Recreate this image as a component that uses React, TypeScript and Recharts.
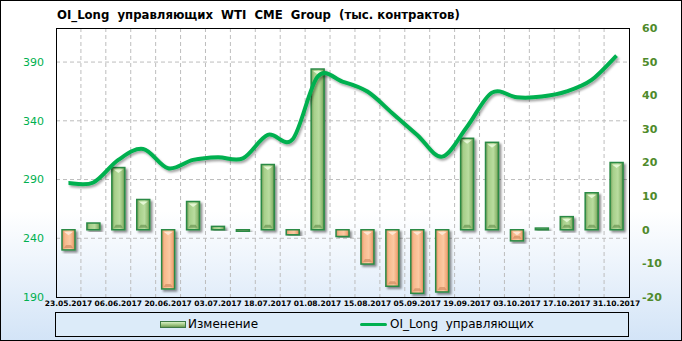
import { ComposedChart, Bar, Line, XAxis, YAxis, CartesianGrid } from 'recharts';

const dates = [
  '23.05.2017', '30.05.2017', '06.06.2017', '13.06.2017', '20.06.2017', '27.06.2017',
  '03.07.2017', '11.07.2017', '18.07.2017', '25.07.2017', '01.08.2017', '08.08.2017',
  '15.08.2017', '29.08.2017', '05.09.2017', '12.09.2017', '19.09.2017', '26.09.2017',
  '03.10.2017', '10.10.2017', '17.10.2017', '24.10.2017', '31.10.2017',
];

// Изменение (правая ось)
const change = [
  -6, 2, 18.5, 9, -17.6, 8.4, 1, -0.5, 19.4, -1.5, 47.8, -2,
  -10.2, -16.8, -18.9, -18.5, 27.2, 26, -3.3, 0.5, 3.9, 11, 20,
];

// OI_Long управляющих (левая ось)
const oiLong = [
  287, 287.5, 306.7, 316, 299.6, 306.7, 309, 308, 328, 324.3, 377.5, 373.4,
  364.9, 346.5, 328, 309.5, 335, 364, 360, 360.6, 365, 374.8, 395.5,
];

const leftTicks = [190, 240, 290, 340, 390];
const rightTicks = [-20, -10, 0, 10, 20, 30, 40, 50, 60];

const data = dates.map((d, i) => ({ date: d, change: change[i], oi: oiLong[i] }));

const W = 682;
const H = 341;
const PLOT = { left: 56, top: 28, right: 629, bottom: 297 };

// сглаживание как в Excel (Catmull-Rom)
function smoothCurve(context: any) {
  let pts: number[][] = [];
  return {
    areaStart() {},
    areaEnd() {},
    lineStart() {
      pts = [];
    },
    point(x: number, y: number) {
      pts.push([+x, +y]);
    },
    lineEnd() {
      if (!pts.length) return;
      context.moveTo(pts[0][0], pts[0][1]);
      const t = 1 / 6;
      for (let i = 0; i < pts.length - 1; i++) {
        const p0 = pts[Math.max(i - 1, 0)];
        const p1 = pts[i];
        const p2 = pts[i + 1];
        const p3 = pts[Math.min(i + 2, pts.length - 1)];
        context.bezierCurveTo(
          p1[0] + (p2[0] - p0[0]) * t,
          p1[1] + (p2[1] - p0[1]) * t,
          p2[0] - (p3[0] - p1[0]) * t,
          p2[1] - (p3[1] - p1[1]) * t,
          p2[0],
          p2[1],
        );
      }
    },
  };
}

function BevelBar(props: any) {
  const { x, y, width, height, payload } = props;
  const top = Math.min(y, y + height);
  const h = Math.max(Math.abs(height), 1);
  const neg = payload.change < 0;
  const inset = 2;
  return (
    <g filter="url(#barShadow)">
      <rect x={x} y={top} width={width} height={h} fill={neg ? 'url(#gOrange)' : 'url(#gGreen)'} stroke="#2a8a45" strokeWidth={1.5} />
      {h > 8 && (
        <polygon
          points={`${x + inset},${top + inset} ${x + width - inset},${top + inset} ${x + width / 2},${top + width / 2 - 1}`}
          fill={neg ? '#fde6d2' : '#e4f7d4'}
        />
      )}
      {h > 8 && (
        <polygon
          points={`${x + inset},${top + h - inset} ${x + width - inset},${top + h - inset} ${x + width - inset - 2},${top + h - inset - 3} ${x + inset + 2},${top + h - inset - 3}`}
          fill={neg ? '#c9845a' : '#5f8a47'}
          opacity={0.6}
        />
      )}
    </g>
  );
}

export default function App() {
  return (
    <div
      style={{
        position: 'absolute',
        left: 0,
        top: 0,
        width: W,
        height: H,
        boxSizing: 'border-box',
        border: '1px solid #000',
        background: 'linear-gradient(to bottom, #ffffff 0%, #ffffff 62%, #d3e4f7 100%)',
        fontFamily: '"DejaVu Sans", sans-serif',
      }}
    >
      <div
        style={{
          position: 'absolute',
          left: 56,
          top: 6,
          fontSize: 13,
          fontWeight: 'bold',
          fontFamily: '"DejaVu Sans Condensed", "DejaVu Sans", sans-serif',
          whiteSpace: 'pre',
          color: '#000',
        }}
      >
        {'OI_Long  управляющих  WTI  CME  Group  (тыс. контрактов)'}
      </div>

      <div style={{ position: 'absolute', left: -1, top: -1 }}>
        <ComposedChart
          width={W}
          height={H}
          data={data}
          barCategoryGap={0}
          margin={{ top: PLOT.top, right: 0, bottom: H - PLOT.bottom - 14, left: 0 }}
        >
          <defs>
            <linearGradient id="gGreen" x1="0" y1="0" x2="1" y2="0">
              <stop offset="0%" stopColor="#6f9a55" />
              <stop offset="22%" stopColor="#a6cf8a" />
              <stop offset="60%" stopColor="#b9dc9f" />
              <stop offset="85%" stopColor="#8fba72" />
              <stop offset="100%" stopColor="#5d8746" />
            </linearGradient>
            <linearGradient id="gOrange" x1="0" y1="0" x2="1" y2="0">
              <stop offset="0%" stopColor="#d88a5c" />
              <stop offset="22%" stopColor="#f7b98c" />
              <stop offset="60%" stopColor="#fbc9a2" />
              <stop offset="85%" stopColor="#f0a877" />
              <stop offset="100%" stopColor="#c97b4f" />
            </linearGradient>
            <filter id="barShadow" x="-50%" y="-20%" width="200%" height="140%">
              <feDropShadow dx="2" dy="2" stdDeviation="1.2" floodColor="#000" floodOpacity="0.45" />
            </filter>
            <filter id="lineShadow" x="-10%" y="-10%" width="120%" height="130%">
              <feDropShadow dx="1.5" dy="2" stdDeviation="1.2" floodColor="#000" floodOpacity="0.35" />
            </filter>
          </defs>
          <CartesianGrid
            yAxisId="left"
            stroke="#bdbdbd"
            strokeDasharray="4 3"
            horizontalValues={[240, 290, 340, 390]}
            verticalCoordinatesGenerator={({ offset }: any) =>
              dates.slice(1).map((_, i) => offset.left + ((i + 1) * offset.width) / dates.length)
            }
          />
          <XAxis
            dataKey="date"
            interval={1}
            tickLine={false}
            axisLine={false}
            tickSize={0}
            tickMargin={4}
            height={14}
            tick={{ fontSize: 7.5, fontWeight: 'bold', fill: '#000' }}
          />
          <YAxis
            yAxisId="left"
            orientation="left"
            width={PLOT.left}
            domain={[190, 419]}
            ticks={leftTicks}
            allowDataOverflow
            tickLine={false}
            axisLine={false}
            tickSize={0}
            tickMargin={12}
            tick={{ fontSize: 11, fill: '#00b050' }}
          />
          <YAxis
            yAxisId="right"
            orientation="right"
            width={W - PLOT.right}
            domain={[-20, 60]}
            ticks={rightTicks}
            allowDataOverflow
            tickLine={false}
            axisLine={false}
            tickSize={0}
            tickMargin={13}
            tick={{ fontSize: 11, fontWeight: 'bold', fill: '#4f8a2b' }}
          />
          <Bar yAxisId="right" dataKey="change" barSize={13} shape={<BevelBar />} isAnimationActive={false} />
          <Line
            yAxisId="left"
            type={smoothCurve as any}
            dataKey="oi"
            stroke="#00b050"
            strokeWidth={4}
            dot={false}
            activeDot={false}
            filter="url(#lineShadow)"
            isAnimationActive={false}
          />
        </ComposedChart>
      </div>

      <div
        style={{
          position: 'absolute',
          left: PLOT.left - 1,
          top: PLOT.top - 1,
          width: PLOT.right - PLOT.left + 1,
          height: PLOT.bottom - PLOT.top + 1,
          boxSizing: 'border-box',
          border: '1px solid #000',
          pointerEvents: 'none',
        }}
      />

      <div
        style={{
          position: 'absolute',
          left: 54,
          top: 311,
          width: 574,
          height: 25,
          boxSizing: 'border-box',
          border: '1px solid #000',
          background: '#dcebf9',
          fontSize: 12,
          color: '#000',
        }}
      >
        <div
          style={{
            position: 'absolute',
            left: 104,
            top: 8,
            width: 26,
            height: 7,
            boxSizing: 'border-box',
            border: '1px solid #3d7a45',
            background: 'linear-gradient(to bottom, #d6efc3, #9cc47f 60%, #6f9a55)',
          }}
        />
        <div style={{ position: 'absolute', left: 132, top: 4, whiteSpace: 'pre' }}>Изменение</div>
        <div
          style={{
            position: 'absolute',
            left: 304,
            top: 10,
            width: 27,
            height: 3,
            borderRadius: 2,
            background: '#00b050',
          }}
        />
        <div style={{ position: 'absolute', left: 334, top: 4, whiteSpace: 'pre' }}>{'OI_Long  управляющих'}</div>
      </div>
    </div>
  );
}
